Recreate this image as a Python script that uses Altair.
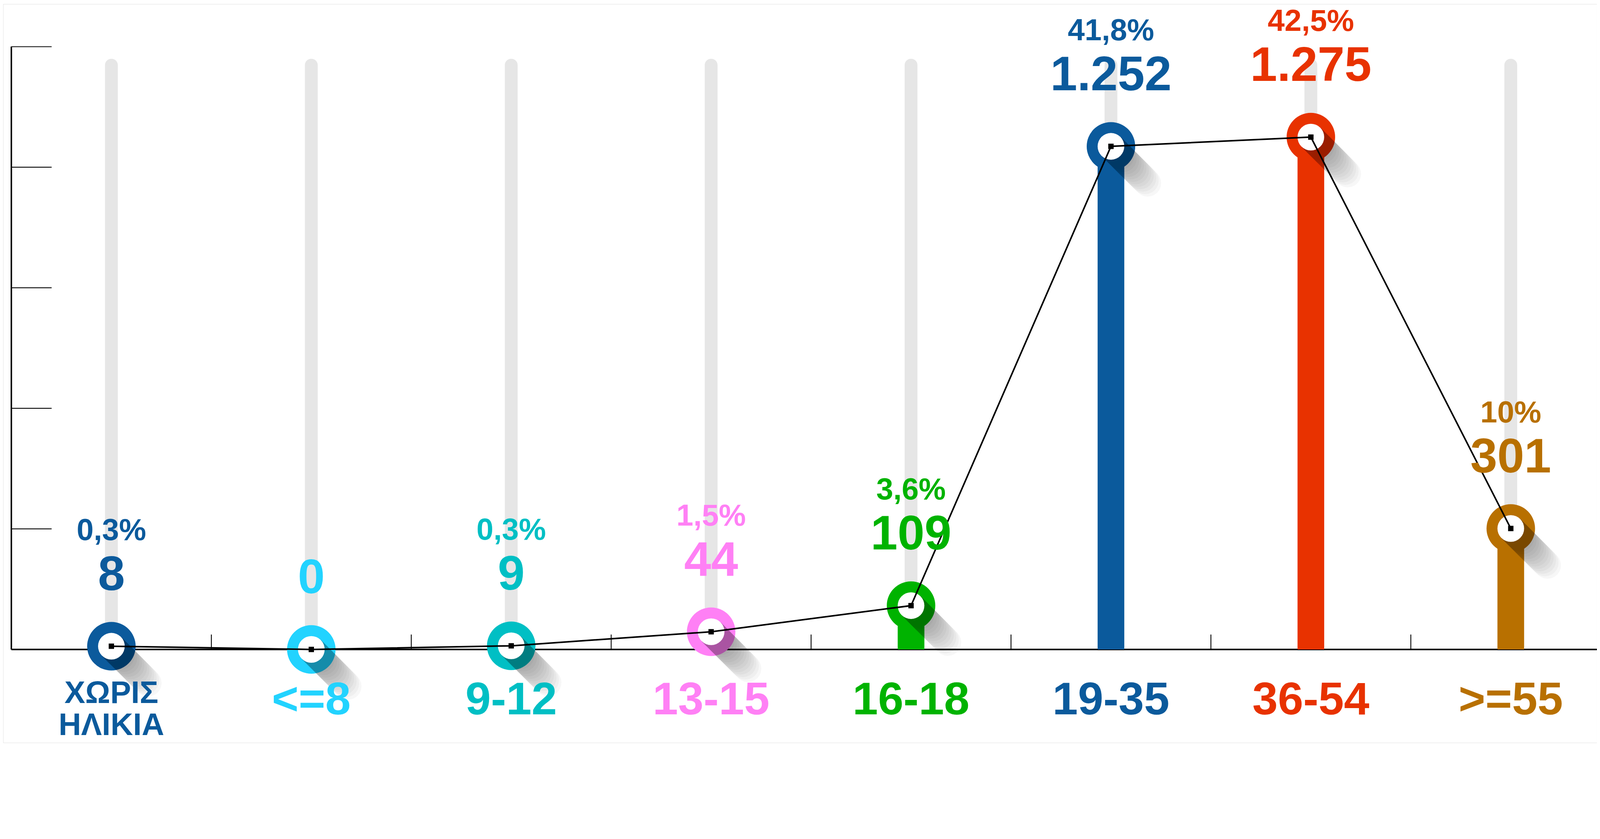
import math
import altair as alt
import pandas as pd

# ---- data ----
CATS = ["ΧΩΡΙΣ ΗΛΙΚΙΑ", "<=8", "9-12", "13-15", "16-18", "19-35", "36-54", ">=55"]
AXIS_LABELS = ["ΧΩΡΙΣ\nΗΛΙΚΙΑ", "<=8", "9-12", "13-15", "16-18", "19-35", "36-54", ">=55"]
VALUES = [8, 0, 9, 44, 109, 1252, 1275, 301]
PCTS = ["0,3%", "", "0,3%", "1,5%", "3,6%", "41,8%", "42,5%", "10%"]
COLORS = ["#0b5a9c", "#22d3ff", "#00bfc4", "#ff80f5", "#00b300", "#0b5a9c", "#e83200", "#b87000"]
YTICKS = [0, 300, 600, 900, 1200, 1500]

# ---- layout (pixels) ----
W, H = 4600, 2131
LEFT, RIGHT = 24, 4600
BAND = 577
TOP, BASE = 123, 1862
PAD_T, PAD_B = -118, -119
FONT = "Liberation Sans, Arial, sans-serif"

df = pd.DataFrame({
    "cat": CATS,
    "value": VALUES,
    "vlabel": [f"{v:,}".replace(",", ".") for v in VALUES],
    "pct": PCTS,
    "axlabel": AXIS_LABELS,
    "idx": list(range(len(CATS))),
})
ticks_df = pd.DataFrame({"t": YTICKS})
xticks_df = pd.DataFrame({"cat": CATS[1:]})

xscale = alt.Scale(domain=CATS, paddingInner=0, paddingOuter=0,
                   range=[LEFT, LEFT + BAND * len(CATS)])
yscale = alt.Scale(domain=[0, 1500], nice=False, zero=True, range=[BASE, TOP])
cscale = alt.Scale(domain=CATS, range=COLORS)

X = alt.X("cat:N", scale=xscale, sort=CATS, axis=None)
Y = alt.Y("value:Q", scale=yscale, axis=None)
C = alt.Color("cat:N", scale=cscale, legend=None)


def capsule(length_px, half_px, unit_px):
    """Shadow band from the marker centre towards the lower right."""
    s = 1.0 / math.sqrt(2)
    hw = half_px / unit_px
    d = length_px / unit_px * s
    nx, ny = hw * s, -hw * s
    pts = [(nx, ny), (nx + d, ny + d)]
    for k in range(1, 12):
        a = math.radians(-45 + 180 * k / 12)
        pts.append((d + hw * math.cos(a), d + hw * math.sin(a)))
    pts += [(-nx + d, -ny + d), (-nx, -ny)]
    return "M" + " L".join(f"{x:.4f},{y:.4f}" for x, y in pts) + " Z"


UNIT = 100.0
SHADOW_SIZE = (2 * UNIT) ** 2

base = alt.Chart(df).encode(x=X)

yaxis_line = alt.Chart(ticks_df).mark_rule(color="black", strokeWidth=3.5).encode(
    x=alt.value(LEFT),
    y=alt.Y(datum=1500, scale=yscale, axis=None), y2=alt.datum(0),
)
xaxis_line = alt.Chart(ticks_df).mark_rule(color="black", strokeWidth=3.5).encode(
    x=alt.value(LEFT), x2=alt.value(RIGHT),
    y=alt.Y(datum=0, scale=yscale, axis=None),
)
ytick_rules = alt.Chart(ticks_df).mark_rule(color="black", strokeWidth=2.5).encode(
    x=alt.value(LEFT), x2=alt.value(LEFT + 116),
    y=alt.Y("t:Q", scale=yscale, axis=None),
)
xtick_rules = alt.Chart(xticks_df).mark_rule(color="black", strokeWidth=2.5).encode(
    x=alt.X("cat:N", scale=xscale, sort=CATS, bandPosition=0, axis=None),
    y=alt.value(BASE - 43), y2=alt.value(BASE),
)

track = base.mark_bar(color="#e6e6e6", size=37, cornerRadiusTopLeft=18,
                      cornerRadiusTopRight=18).encode(
    y=alt.value(TOP + 35), y2=alt.value(BASE)
)
bars = base.mark_bar(size=77).encode(y=Y, color=C)
ring = base.mark_point(shape="circle", size=140 ** 2, filled=True, opacity=1,
                       strokeWidth=0).encode(y=Y, color=C)
shadows = [
    base.mark_point(shape=capsule(L, 39, UNIT), size=SHADOW_SIZE, filled=True,
                    color="black", opacity=0.03, strokeWidth=0).encode(y=Y)
    for L in range(40, 160, 10)
]
hole = base.mark_point(shape="circle", size=77 ** 2, filled=True, color="white",
                       opacity=1, strokeWidth=0).encode(y=Y)
line = base.mark_line(color="black", strokeWidth=4.5).encode(y=Y)
squares = base.mark_point(shape="square", size=240, filled=True, color="black",
                          opacity=1, strokeWidth=0).encode(y=Y)

vlabels = base.mark_text(font=FONT, fontWeight="bold", fontSize=140, dy=-204,
                         baseline="middle", align="center").encode(
    y=Y, text="vlabel:N", color=C)
plabels = base.mark_text(font=FONT, fontWeight="bold", fontSize=88, dy=-332,
                         baseline="middle", align="center").encode(
    y=Y, text="pct:N", color=C)
xlabels = base.transform_filter("datum.idx > 0").mark_text(
    font=FONT, fontWeight="bold", fontSize=132, baseline="middle", align="center"
).encode(y=alt.value(BASE + 147), text="axlabel:N", color=C)
xlabel0 = base.transform_filter("datum.idx == 0").mark_text(
    font=FONT, fontWeight="bold", fontSize=90, baseline="middle", align="center",
    lineBreak="\n", lineHeight=92
).encode(y=alt.value(BASE + 128), text="axlabel:N", color=C)

chart = alt.layer(
    track, ytick_rules, xtick_rules, yaxis_line, xaxis_line, bars, ring, *shadows,
    hole, line, squares, vlabels, plabels, xlabels, xlabel0,
).properties(
    width=W, height=H,
    autosize=alt.AutoSizeParams(type="none"),
    padding={"left": 0, "right": 0, "top": PAD_T, "bottom": PAD_B},
).configure_view(strokeWidth=0, stroke="transparent").configure(background="white")

chart.save("out.html", embed_options={"renderer": "svg", "actions": False})
